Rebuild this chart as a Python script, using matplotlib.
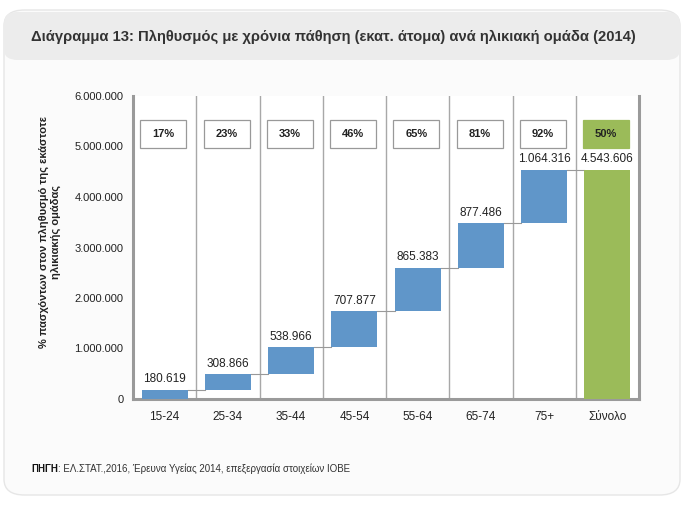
import matplotlib
matplotlib.use("Agg")
import matplotlib.pyplot as plt
from matplotlib.patches import FancyBboxPatch, Rectangle
import numpy as np

plt.rcParams['font.family'] = ['Liberation Sans', 'DejaVu Sans']

categories = ["15-24", "25-34", "35-44", "45-54", "55-64", "65-74", "75+", "Σύνολο"]
increments = [180619, 308866, 538966, 707877, 865383, 877486, 1064316]
total = 4543606
value_labels = ["180.619", "308.866", "538.966", "707.877", "865.383", "877.486", "1.064.316", "4.543.606"]
pct_labels = ["17%", "23%", "33%", "46%", "65%", "81%", "92%", "50%"]
yticks = [0, 1000000, 2000000, 3000000, 4000000, 5000000, 6000000]
ytick_labels = ["0", "1.000.000", "2.000.000", "3.000.000", "4.000.000", "5.000.000", "6.000.000"]

title = "Διάγραμμα 13: Πληθυσμός με χρόνια πάθηση (εκατ. άτομα) ανά ηλικιακή ομάδα (2014)"
ylabel = "% πασχόντων στον πληθυσμό της εκάστοτε\nηλικιακής ομάδας"

BLUE = "#6096c9"
GREEN = "#9bbb59"
GRID = "#a8a8a8"

fig = plt.figure(figsize=(6.86, 5.24), dpi=100)
fig.patch.set_facecolor("white")

W, H = 686, 524
def fx(px): return px / W
def fy(py): return 1 - py / H
card = FancyBboxPatch((fx(4), fy(495)), fx(676), fy(10) - fy(495),
                      boxstyle="round,pad=0,rounding_size=0.03", transform=fig.transFigure,
                      facecolor="#fbfbfb", edgecolor="#e6e6e6", linewidth=1.0, zorder=0)
fig.patches.append(card)
header = FancyBboxPatch((fx(4), fy(60)), fx(676), fy(12) - fy(60),
                        boxstyle="round,pad=0,rounding_size=0.02", transform=fig.transFigure,
                        facecolor="#ececec", edgecolor="none", zorder=0.5)
fig.patches.append(header)
fig.text(fx(31), fy(37), title, fontsize=10.6, fontweight="bold", color="#333333",
         ha="left", va="center")

ax = fig.add_axes([fx(133), fy(399), fx(639) - fx(133), fy(96) - fy(399)])
ax.set_zorder(3)
ax.set_facecolor("white")
x = np.arange(len(categories))
width = 0.73

cum = np.concatenate([[0], np.cumsum(increments)])
bottoms = cum[:-1]
ax.bar(x[:-1], increments, width=width, bottom=bottoms, color=BLUE, zorder=3)
ax.bar(x[-1], total, width=width, color=GREEN, zorder=3)

tops = list(cum[1:])
for i in range(len(categories) - 1):
    y = tops[i]
    ax.plot([x[i] + width / 2, x[i + 1] - width / 2], [y, y], color="#999999", lw=0.8, zorder=2)

heights_top = tops + [total]
for i, lab in enumerate(value_labels):
    ax.text(x[i], heights_top[i] + 90000, lab, ha="center", va="bottom", fontsize=8.5, color="#222222", zorder=4)

box_bottom, box_top = 4970000, 5520000
for i, lab in enumerate(pct_labels):
    is_total = i == len(categories) - 1
    rect = Rectangle((x[i] - width / 2 - 0.02, box_bottom), width, box_top - box_bottom,
                     facecolor=GREEN if is_total else "white",
                     edgecolor=GREEN if is_total else "#999999", lw=0.9, zorder=4)
    ax.add_patch(rect)
    ax.text(x[i] - 0.02, (box_bottom + box_top) / 2, lab, ha="center", va="center",
            fontsize=8, fontweight="bold", color="#222222", zorder=5)

for b in np.arange(0.5, len(categories) - 0.5, 1):
    ax.axvline(b, color=GRID, lw=1.0, zorder=1)

ax.set_xlim(-0.5, len(categories) - 0.5)
ax.set_ylim(0, 6000000)
ax.set_yticks(yticks)
ax.set_yticklabels(ytick_labels, fontsize=8, color="#222222")
ax.set_xticks(x)
ax.set_xticklabels(categories, fontsize=8.5, color="#222222")
ax.tick_params(length=0, pad=7)
ax.tick_params(axis="x", pad=9)
for s in ["left", "bottom", "right"]:
    ax.spines[s].set_color("#9a9a9a")
    ax.spines[s].set_linewidth(2.2)
ax.spines["top"].set_visible(False)

fig.text(fx(50), (fy(96) + fy(399)) / 2 + 0.03, ylabel, rotation=90, fontsize=8, fontweight="bold",
         ha="center", va="center", color="#222222", multialignment="center")

fig.text(fx(31), fy(469), "ΠΗΓΗ", fontsize=7, fontweight="bold", ha="left", va="center", color="#111111")
fig.text(fx(31) + 0.040, fy(469), ": ΕΛ.ΣΤΑΤ.,2016, Έρευνα Υγείας 2014, επεξεργασία στοιχείων ΙΟΒΕ",
         fontsize=7, ha="left", va="center", color="#333333")

fig.savefig("out.png", dpi=100, facecolor="white")
